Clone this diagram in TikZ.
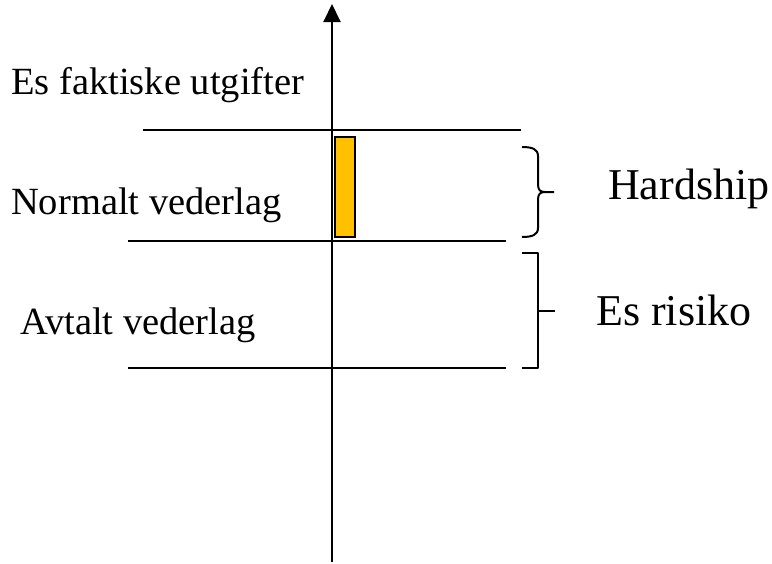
\documentclass[tikz,border=0pt]{standalone}
\usepackage{fontspec}
\setmainfont{Liberation Serif}
\usetikzlibrary{arrows.meta}
\definecolor{barorange}{HTML}{FFC000}
\tikzset{
  lbl/.style={anchor=base west,inner sep=0pt,font=\fontsize{38.5}{40}\selectfont},
  biglbl/.style={anchor=base west,inner sep=0pt,font=\fontsize{44}{46}\selectfont},
  thinline/.style={line width=2pt,black},
  bracepath/.style={line width=2pt,black,line join=round}
}
\begin{document}
\begin{tikzpicture}[x=1pt,y=-1pt]
\useasboundingbox (0,0) rectangle (772,563);
% axis
\coordinate (axb) at (332,562);
\coordinate (axt) at (332,4);
\draw[thinline,-{Triangle[width=17pt,length=18pt]}] (axb) -- (axt);
% horizontal lines
\coordinate (l1a) at (143,130); \coordinate (l1b) at (521,130);
\coordinate (l2a) at (128,241); \coordinate (l2b) at (506,241);
\coordinate (l3a) at (128,368); \coordinate (l3b) at (506,368);
\draw[thinline] (l1a) -- (l1b);
\draw[thinline] (l2a) -- (l2b);
\draw[thinline] (l3a) -- (l3b);
% bar
\node[draw=black,line width=1.8pt,fill=barorange,minimum width=20pt,minimum height=100pt,inner sep=0pt] (bar) at (345,187) {};
% brace 1 (curly)
\coordinate (b1t) at (522,147);
\coordinate (b1m) at (554,192);
\coordinate (b1b) at (522,237);
\draw[bracepath] (b1t) .. controls (532,147) and (538,149) .. (538,156)
  -- (538,184) .. controls (538,190) and (540,192) .. (545,192) -- (b1m);
\draw[bracepath] (545,192) .. controls (540,192) and (538,194) .. (538,200)
  -- (538,228) .. controls (538,235) and (532,237) .. (b1b);
% brace 2 (square)
\coordinate (b2t) at (522,253);
\coordinate (b2m) at (555,311);
\coordinate (b2b) at (522,368);
\draw[bracepath] (b2t) -- (538,253) -- (538,368) -- (b2b);
\draw[bracepath] (538,311) -- (b2m);
% labels
\node[lbl] (t1) at (11,94) {Es faktiske utgifter};
\node[lbl] (t2) at (11,214) {Normalt vederlag};
\node[lbl] (t3) at (20,334) {Avtalt vederlag};
\node[biglbl] (t4) at (608,199) {Hardship};
\node[biglbl] (t5) at (596,325) {Es risiko};
\end{tikzpicture}
\end{document}
